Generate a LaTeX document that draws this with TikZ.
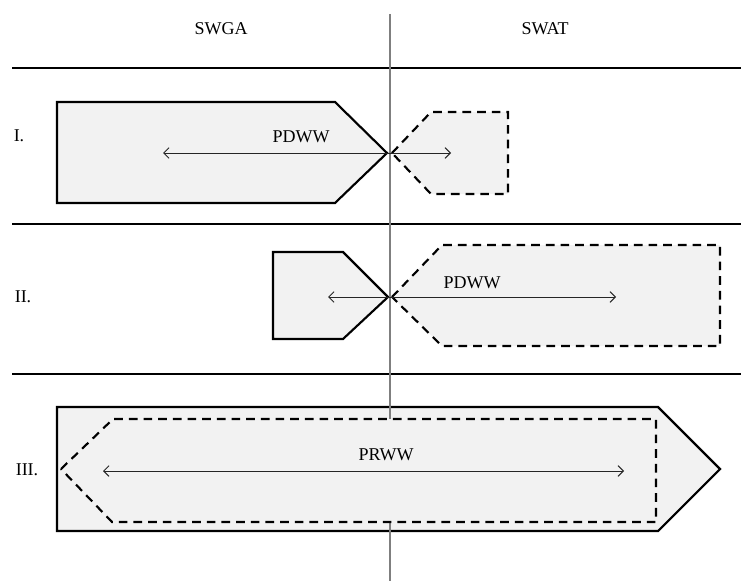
\documentclass[tikz,border=0pt]{standalone}
\usepackage{fontspec}
\setmainfont{Liberation Serif}
\usetikzlibrary{arrows.meta}
\definecolor{shapefill}{HTML}{F2F2F2}
\definecolor{divgray}{HTML}{7F7F7F}
\tikzset{
  solidshape/.style={draw=black, line width=1.6pt, fill=shapefill, line join=miter},
  dashshape/.style={draw=black, line width=1.6pt, fill=shapefill, dash pattern=on 6.5pt off 4.5pt},
  rangearrow/.style={draw=black!85, line width=0.7pt, {Straight Barb[length=4pt,width=8pt]}-{Straight Barb[length=4pt,width=8pt]}},
  rowline/.style={draw=black, line width=0.8pt},
  divline/.style={draw=divgray, line width=0.9pt},
  lbl/.style={font=\fontsize{13.5}{16}\selectfont, inner sep=0pt}
}
\begin{document}
\begin{tikzpicture}[x=0.75pt, y=-0.75pt]
\useasboundingbox (0,0) rectangle (741,581);
% headers
\node[lbl] (swga) at (221,29) {SWGA};
\node[lbl] (swat) at (545,29) {SWAT};
% row separators
\coordinate (h1l) at (12,68);  \coordinate (h1r) at (741,68);
\coordinate (h2l) at (12,224); \coordinate (h2r) at (741,224);
\coordinate (h3l) at (12,374); \coordinate (h3r) at (741,374);
\draw[rowline] (h1l) -- (h1r);
\draw[rowline] (h2l) -- (h2r);
\draw[rowline] (h3l) -- (h3r);
% row labels
\node[lbl] (r1) at (19,136) {I.};
\node[lbl] (r2) at (23,297) {II.};
\node[lbl] (r3) at (27,470) {III.};
% Row I
\draw[solidshape] (57,102) -- (335,102) -- (387,153) -- (335,203) -- (57,203) -- cycle;
\draw[dashshape] (392,153) -- (431,112) -- (508,112) -- (508,194) -- (431,194) -- cycle;
% Row II
\draw[solidshape] (273,252) -- (343,252) -- (388,297) -- (343,339) -- (273,339) -- cycle;
\draw[dashshape] (392,297) -- (442,245) -- (720,245) -- (720,346) -- (442,346) -- cycle;
% Row III outer
\draw[solidshape] (57,407) -- (658,407) -- (720,469) -- (658,531) -- (57,531) -- cycle;
% divider
\coordinate (vtop) at (390,14);
\coordinate (vbot) at (390,581);
\draw[divline] (vtop) -- (vbot);
% Row III inner
\draw[dashshape] (61,469) -- (113,419) -- (656,419) -- (656,522) -- (112,522) -- cycle;
% arrows
\coordinate (a1l) at (163,153); \coordinate (a1r) at (451,153);
\coordinate (a2l) at (328,297); \coordinate (a2r) at (616,297);
\coordinate (a3l) at (103,471); \coordinate (a3r) at (624,471);
\draw[rangearrow] (a1l) -- (a1r);
\draw[rangearrow] (a2l) -- (a2r);
\draw[rangearrow] (a3l) -- (a3r);
% arrow labels
\node[lbl] (p1) at (301,137) {PDWW};
\node[lbl] (p2) at (472,283) {PDWW};
\node[lbl] (p3) at (386,455) {PRWW};
\end{tikzpicture}
\end{document}
